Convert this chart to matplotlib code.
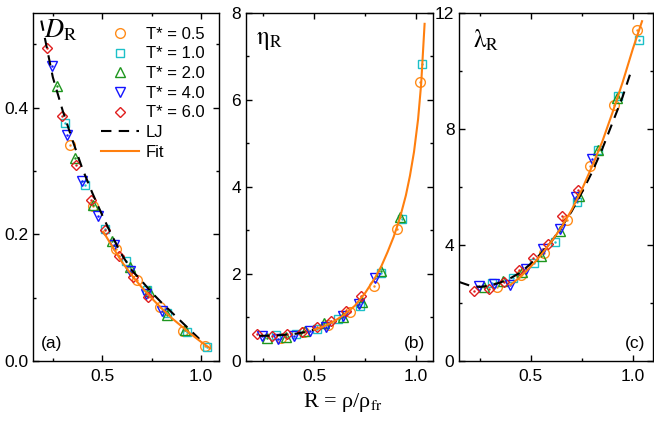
import numpy as np
import matplotlib
matplotlib.use("Agg")
import matplotlib.pyplot as plt

plt.rcParams['font.family'] = ['Liberation Sans', 'DejaVu Sans']
plt.rcParams['mathtext.fontset'] = 'stix'

# reduced density R = rho/rho_fr for each temperature
temps = ['0.5', '1.0', '2.0', '4.0', '6.0']
R_05 = [0.337, 0.452, 0.567, 0.677, 0.792, 0.907, 1.020]
R_10 = [0.310, 0.413, 0.515, 0.619, 0.724, 0.829, 0.929, 1.030]
R_20 = [0.270, 0.362, 0.455, 0.548, 0.641, 0.734, 0.827, 0.920]
R_40 = [0.245, 0.320, 0.400, 0.479, 0.560, 0.641, 0.720, 0.800]
R_60 = [0.220, 0.295, 0.367, 0.442, 0.512, 0.584, 0.654, 0.729]

# (a) diffusion
D_05 = [0.341, 0.245, 0.177, 0.128, 0.086, 0.048, 0.024]
D_10 = [0.376, 0.277, 0.209, 0.158, 0.112, 0.075, 0.046, 0.022]
D_20 = [0.434, 0.320, 0.246, 0.190, 0.148, 0.110, 0.073, 0.049]
D_40 = [0.466, 0.356, 0.284, 0.229, 0.183, 0.142, 0.106, 0.079]
D_60 = [0.494, 0.386, 0.310, 0.254, 0.206, 0.165, 0.133, 0.101]

# (b) viscosity
eta_05 = [0.52, 0.66, 0.82, 1.13, 1.72, 3.02, 6.41]
eta_10 = [0.60, 0.63, 0.74, 0.96, 1.26, 2.01, 3.26, 6.81]
eta_20 = [0.52, 0.56, 0.68, 0.88, 1.02, 1.36, 2.07, 3.30]
eta_40 = [0.58, 0.50, 0.58, 0.70, 0.77, 1.03, 1.31, 1.90]
eta_60 = [0.61, 0.57, 0.63, 0.66, 0.77, 0.92, 1.15, 1.49]

# (c) thermal conductivity
lam_05 = [2.54, 2.97, 3.71, 4.84, 6.72, 8.80, 11.39]
lam_10 = [2.68, 2.85, 3.37, 4.09, 5.46, 7.28, 9.11, 11.07]
lam_20 = [2.56, 2.75, 3.05, 3.60, 4.46, 5.69, 7.28, 9.06]
lam_40 = [2.59, 2.66, 2.62, 3.16, 3.85, 4.54, 5.64, 6.95]
lam_60 = [2.41, 2.49, 2.73, 3.14, 3.56, 4.02, 4.98, 5.90]

# LJ reference curves and fits
LJ_R_a = [0.18, 0.19, 0.25, 0.30, 0.35, 0.40, 0.45, 0.50, 0.55, 0.60, 0.65, 0.70, 0.75, 0.80, 0.85, 0.90, 0.95, 0.99]
LJ_D = [0.565, 0.540, 0.448, 0.395, 0.348, 0.303, 0.265, 0.230, 0.197, 0.167, 0.143, 0.126, 0.108, 0.092, 0.077, 0.062, 0.047, 0.035]
fit_R_a = [0.505, 0.55, 0.60, 0.65, 0.70, 0.75, 0.80, 0.85, 0.90, 0.95, 1.00, 1.045]
fit_D = [0.204, 0.181, 0.156, 0.135, 0.116, 0.099, 0.083, 0.068, 0.055, 0.042, 0.030, 0.020]

LJ_R_b = [0.23, 0.30, 0.35, 0.40, 0.45, 0.50]
LJ_eta = [0.58, 0.58, 0.60, 0.62, 0.66, 0.72]
fit_R_b = [0.50, 0.55, 0.60, 0.65, 0.70, 0.75, 0.80, 0.83, 0.86, 0.89, 0.92, 0.95, 0.97, 0.99, 1.01, 1.025, 1.042]
fit_eta = [0.72, 0.80, 0.92, 1.07, 1.27, 1.56, 1.92, 2.18, 2.50, 2.85, 3.27, 3.80, 4.25, 4.80, 5.55, 6.35, 7.74]

LJ_R_c = [0.15, 0.20, 0.25, 0.30, 0.35, 0.40, 0.45, 0.50, 0.55, 0.60, 0.65, 0.70, 0.75, 0.80, 0.85, 0.90, 0.95, 0.99]
LJ_lam = [2.72, 2.60, 2.55, 2.60, 2.70, 2.85, 3.05, 3.35, 3.70, 4.10, 4.60, 5.15, 5.80, 6.50, 7.30, 8.20, 9.10, 9.95]
fit_R_c = [0.40, 0.45, 0.50, 0.55, 0.60, 0.65, 0.70, 0.75, 0.80, 0.85, 0.90, 0.95, 1.00, 1.045]
fit_lam = [2.62, 2.90, 3.25, 3.65, 4.10, 4.60, 5.20, 5.90, 6.70, 7.55, 8.55, 9.60, 10.75, 11.70]

colors = ['#FF8C1A', '#1CC0C8', '#1E961E', '#1414FF', '#E01E1E']
markers = ['o', 's', '^', 'v', 'D']
msizes = [7, 5.8, 7, 7, 5.5]
R_all = [R_05, R_10, R_20, R_40, R_60]

fig = plt.figure(figsize=(6.54, 4.21), dpi=100)
axa = fig.add_axes([0.0505, 0.1425, 0.2844, 0.8278])
axb = fig.add_axes([0.3761, 0.1425, 0.2859, 0.8278])
axc = fig.add_axes([0.7023, 0.1425, 0.2966, 0.8278])

panels = [
    (axa, [D_05, D_10, D_20, D_40, D_60], LJ_R_a, LJ_D, fit_R_a, fit_D),
    (axb, [eta_05, eta_10, eta_20, eta_40, eta_60], LJ_R_b, LJ_eta, fit_R_b, fit_eta),
    (axc, [lam_05, lam_10, lam_20, lam_40, lam_60], LJ_R_c, LJ_lam, fit_R_c, fit_lam),
]

for ax, ys, ljx, ljy, fx, fy in panels:
    for i in range(5):
        ax.plot(R_all[i], ys[i], ls='none', marker=markers[i], ms=msizes[i],
                mfc='none', mec=colors[i], mew=1.0, label='T* = ' + temps[i])
        ax.plot(R_all[i], ys[i], ls='none', marker='.', ms=1.5, color=colors[i])
    ax.plot(ljx, ljy, color='black', lw=1.5, dashes=(5, 3.5), label='LJ')
    ax.plot(fx, fy, color='#FF7F0E', lw=1.5, label='Fit')
    ax.tick_params(which='both', direction='in', top=True, right=True, labelsize=12.5)
    ax.tick_params(which='major', length=4.5, width=1.0)
    ax.tick_params(which='minor', length=2.5, width=1.0)
    ax.tick_params(axis='x', pad=6)
    ax.tick_params(axis='y', pad=3.5)
    ax.set_xticks([0.5, 1.0])
    ax.set_xticks([0.25, 0.75], minor=True)
    ax.set_xticklabels(['0.5', '1.0'])
    for s in ax.spines.values():
        s.set_linewidth(1.0)

axa.set_xlim(0.15, 1.09)
axa.set_ylim(0, 0.55)
axa.set_yticks([0.0, 0.2, 0.4])
axa.set_yticks([0.1, 0.3, 0.5], minor=True)
axa.set_yticklabels(['0.0', '0.2', '0.4'])

axb.set_xlim(0.165, 1.083)
axb.set_ylim(0, 8)
axb.set_yticks([0, 2, 4, 6, 8])
axb.set_yticks([1, 3, 5, 7], minor=True)

axc.set_xlim(0.15, 1.10)
axc.set_ylim(0, 12)
axc.set_yticks([0, 4, 8, 12])
axc.set_yticks([2, 6, 10], minor=True)

h, l = axa.get_legend_handles_labels()
axa.legend(h, l, loc='upper right', frameon=False, fontsize=12,
           handlelength=2.3, labelspacing=0.28, handletextpad=0.4,
           borderaxespad=0.45, numpoints=1)

axa.text(0.06, 0.985, r'$D_{\mathrm{R}}$', transform=axa.transAxes, fontsize=19, va='top', ha='left')
axb.text(0.055, 0.955, r'$\mathrm{\eta}_{\mathrm{R}}$', transform=axb.transAxes, fontsize=18, va='top', ha='left')
axc.text(0.07, 0.955, r'$\mathrm{\lambda}_{\mathrm{R}}$', transform=axc.transAxes, fontsize=18, va='top', ha='left')

axa.text(0.04, 0.03, '(a)', transform=axa.transAxes, fontsize=12.5, va='bottom', ha='left')
axb.text(0.96, 0.03, '(b)', transform=axb.transAxes, fontsize=12.5, va='bottom', ha='right')
axc.text(0.96, 0.03, '(c)', transform=axc.transAxes, fontsize=12.5, va='bottom', ha='right')

fig.text(343 / 654, 0.045, r'R = ρ/ρ$_{\mathrm{fr}}$', fontsize=16, ha='center', va='center',
         family=['Liberation Serif', 'DejaVu Serif'])

fig.savefig('out.png', dpi=100)
